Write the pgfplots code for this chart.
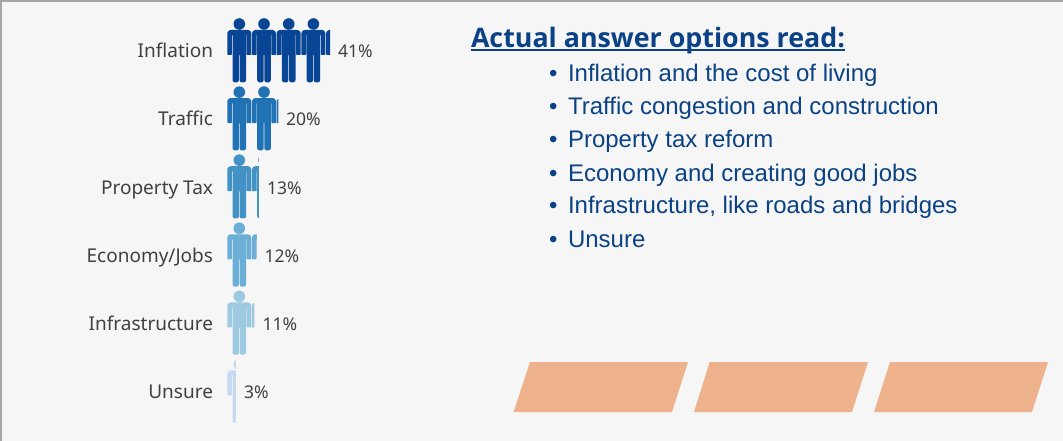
\documentclass[border=0pt]{standalone}
\usepackage{fontspec}
\usepackage{pgfplots}
\usepackage{pgfplotstable}
\pgfplotsset{compat=1.18}
\setmainfont{Liberation Sans}
\newfontfamily\labelfont{Noto Sans}
\newfontfamily\titlefont{Open Sans}[BoldFont={Open Sans Bold}]
\definecolor{bgc}{HTML}{F6F6F6}
\definecolor{framec}{HTML}{A6A6A6}
\definecolor{navy}{HTML}{0A4285}
\definecolor{lab}{HTML}{404040}
\definecolor{para}{HTML}{EEB38D}
\definecolor{r1}{HTML}{084594}
\definecolor{r2}{HTML}{2171B5}
\definecolor{r3}{HTML}{4292C6}
\definecolor{r4}{HTML}{6BAED6}
\definecolor{r5}{HTML}{9ECAE1}
\definecolor{r6}{HTML}{C6DBEF}
\newcommand{\lf}{\labelfont\fontsize{19}{21}\selectfont\color{lab}}
\newcommand{\pf}{\labelfont\fontsize{17.5}{20}\selectfont\color{lab}}
\newcommand{\bt}{\fontsize{24}{27}\selectfont\color{navy}}
\pgfplotstableread{
dx dy
0 15
0.6 13.4
2 12.2
3.5 11.8
20.5 11.8
22 12.2
23.4 13.4
24 15
24 36
23.4 36.8
20 36.8
19.4 36
19.4 17
18.8 17
18.8 62
18 63.5
16.6 64.1
14.2 64.1
13 63.5
12.4 62
12.4 37
11.6 37
11.6 62
11 63.5
9.8 64.1
7.4 64.1
6 63.5
5.2 62
5.2 17
4.6 17
4.6 36
4 36.8
0.6 36.8
0 36
}\personbody
\pgfplotstableread{
dx dy
17.8 5.8
17.36 8.02
16.1 9.9
14.22 11.16
12 11.6
9.78 11.16
7.9 9.9
6.64 8.02
6.2 5.8
6.64 3.58
7.9 1.7
9.78 0.44
12 0
14.22 0.44
16.1 1.7
17.36 3.58
}\personhead
\newcommand{\person}[2]{%
  \addplot[fill=#2,draw=none] table[x expr=\thisrow{dx}/2.5+9.88*#1,y=dy]{\personbody};
  \addplot[fill=#2,draw=none] table[x expr=\thisrow{dx}/2.5+9.88*#1,y=dy]{\personhead};
}
\pgfplotsset{rowaxis/.style={hide axis,scale only axis,ymin=0,ymax=65,y dir=reverse,xmin=0,height=65pt,anchor=north west}}
\begin{document}
\begin{tikzpicture}[x=1pt,y=1pt]
\begin{axis}[name=master,at={(0pt,0pt)},anchor=south west,hide axis,scale only axis,width=1063pt,height=441pt,
  xmin=0,xmax=1063,ymin=0,ymax=441,y dir=reverse,clip=false]
\addplot[fill=bgc,draw=none] coordinates {(0,0)(1063,0)(1063,441)(0,441)};
\addplot[fill=framec,draw=none] coordinates {(0,0)(1063,0)(1063,2)(0,2)};
\addplot[fill=framec,draw=none] coordinates {(0,0)(2,0)(2,441)(0,441)};
\addplot[fill=para,draw=none] coordinates {(513.6,412)(530,362)(688,362)(672,412)};
\addplot[fill=para,draw=none] coordinates {(694,412)(709.7,362)(868,362)(852,412)};
\addplot[fill=para,draw=none] coordinates {(874,412)(890,362)(1048,362)(1032,412)};
\addplot[fill=navy,draw=none] coordinates {(471,49.2)(845,49.2)(845,51)(471,51)};
\begin{scope}[every node/.style={inner sep=0pt,outer sep=0pt}]
\node[anchor=base east] at (axis cs:213,58) {\lf Inflation};
\node[anchor=base east] at (axis cs:213,126) {\lf Traffic};
\node[anchor=base east] at (axis cs:213,194) {\lf Property Tax};
\node[anchor=base east] at (axis cs:213,262) {\lf Economy/Jobs};
\node[anchor=base east] at (axis cs:213,330) {\lf Infrastructure};
\node[anchor=base east] at (axis cs:213,398) {\lf Unsure};
\node[anchor=base west] at (axis cs:338,58) {\pf 41\%};
\node[anchor=base west] at (axis cs:286,126) {\pf 20\%};
\node[anchor=base west] at (axis cs:267,194) {\pf 13\%};
\node[anchor=base west] at (axis cs:264.5,262) {\pf 12\%};
\node[anchor=base west] at (axis cs:262.5,330) {\pf 11\%};
\node[anchor=base west] at (axis cs:244,398) {\pf 3\%};
\node[anchor=base west] at (axis cs:471,48) {\titlefont\bfseries\fontsize{26.8}{30}\selectfont\color{navy}Actual answer options read:};
\node[anchor=base west] at (axis cs:549,81.5) {\bt •};
\node[anchor=base west] at (axis cs:568,81.5) {\bt Inflation and the cost of living};
\node[anchor=base west] at (axis cs:549,114.5) {\bt •};
\node[anchor=base west] at (axis cs:568,114.5) {\bt Traffic congestion and construction};
\node[anchor=base west] at (axis cs:549,147.5) {\bt •};
\node[anchor=base west] at (axis cs:568,147.5) {\bt Property tax reform};
\node[anchor=base west] at (axis cs:549,181.5) {\bt •};
\node[anchor=base west] at (axis cs:568,181.5) {\bt Economy and creating good jobs};
\node[anchor=base west] at (axis cs:549,213.5) {\bt •};
\node[anchor=base west] at (axis cs:568,213.5) {\bt Infrastructure, like roads and bridges};
\node[anchor=base west] at (axis cs:549,247.5) {\bt •};
\node[anchor=base west] at (axis cs:568,247.5) {\bt Unsure};
\end{scope}
\end{axis}
% one axis per row; its x range ends at the row's value, which cuts the last figure
\begin{axis}[rowaxis,at={(227.3pt,422.8pt)},xmax=41.1,width=102.75pt]
\person{0}{r1}\person{1}{r1}\person{2}{r1}\person{3}{r1}\person{4}{r1}
\end{axis}
\begin{axis}[rowaxis,at={(227.3pt,354.7pt)},xmax=20.4,width=51pt]
\person{0}{r2}\person{1}{r2}\person{2}{r2}
\end{axis}
\begin{axis}[rowaxis,at={(227.3pt,286.6pt)},xmax=12.6,width=31.5pt]
\person{0}{r3}\person{1}{r3}
\end{axis}
\begin{axis}[rowaxis,at={(227.3pt,218.5pt)},xmax=11.8,width=29.5pt]
\person{0}{r4}\person{1}{r4}
\end{axis}
\begin{axis}[rowaxis,at={(227.3pt,150.4pt)},xmax=10.8,width=27pt]
\person{0}{r5}\person{1}{r5}
\end{axis}
\begin{axis}[rowaxis,at={(227.3pt,82.3pt)},xmax=3.4,width=8.5pt]
\person{0}{r6}
\end{axis}
\end{tikzpicture}
\end{document}
